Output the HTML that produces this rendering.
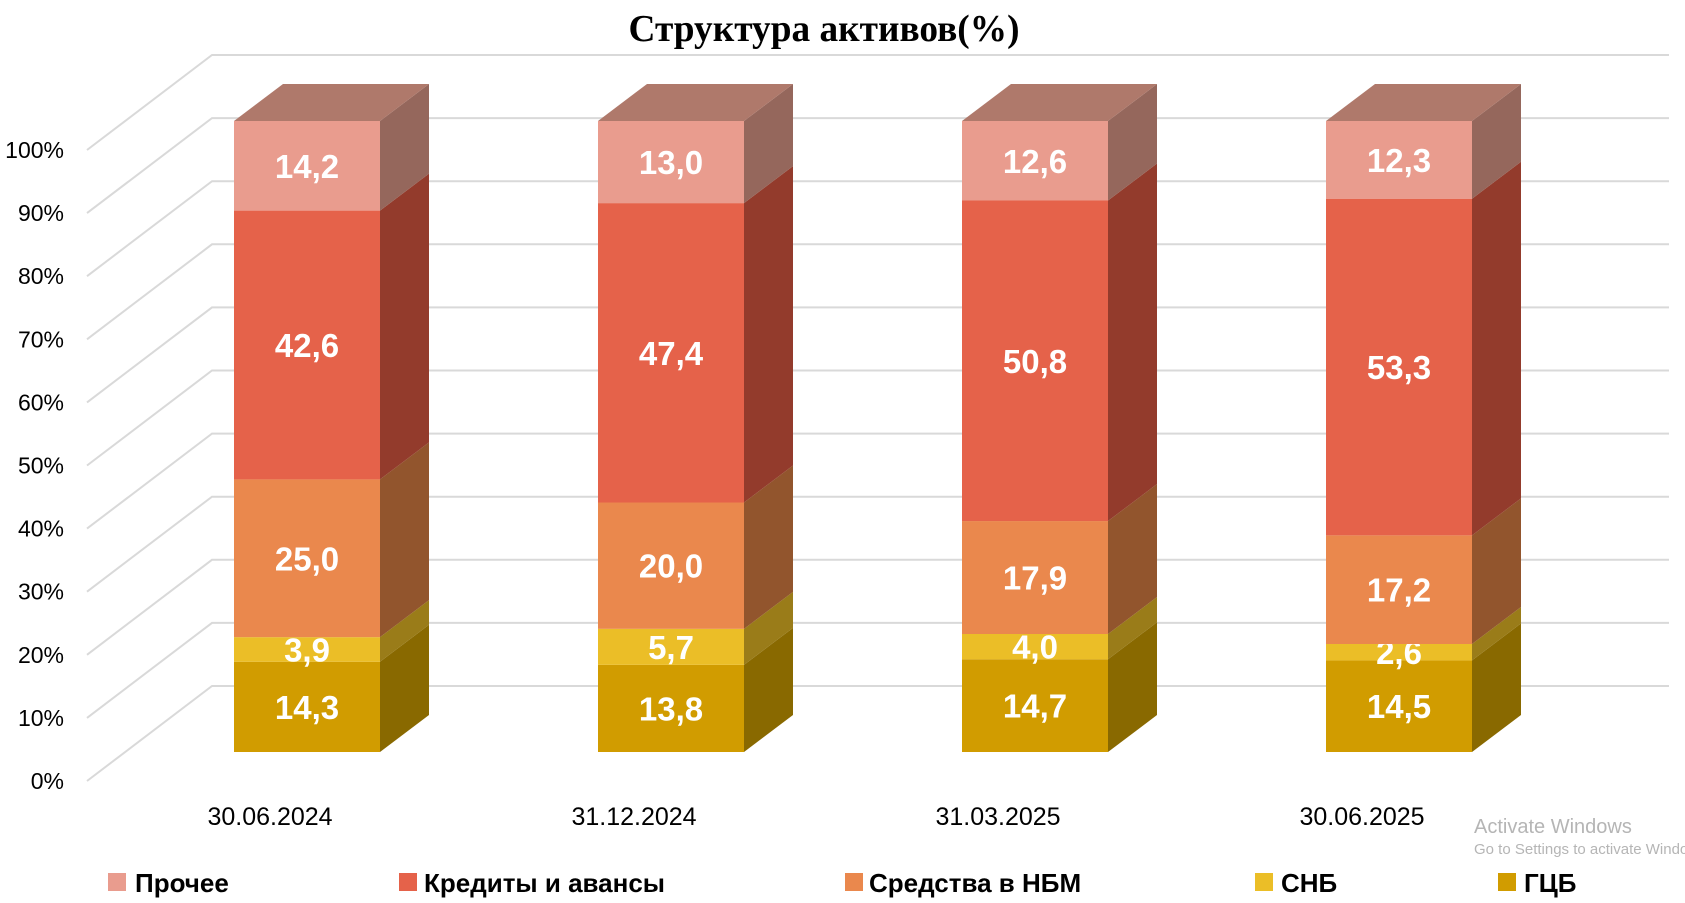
<!DOCTYPE html>
<html><head><meta charset="utf-8"><style>html,body{margin:0;padding:0;background:#fff}svg{display:block}</style></head><body>
<svg width="1685" height="903" viewBox="0 0 1685 903" xmlns="http://www.w3.org/2000/svg" font-family="'Liberation Sans', sans-serif">
<rect width="1685" height="903" fill="#fff"/>
<text x="824" y="41" text-anchor="middle" font-family="'Liberation Serif', serif" font-weight="bold" font-size="38" textLength="391" lengthAdjust="spacingAndGlyphs" fill="#000">Структура активов(%)</text>
<g id="grid" stroke="#d9d9d9" stroke-width="2" fill="none"></g>
<g id="ylab" font-size="23" fill="#000" text-anchor="end"></g>
<g id="bars"></g>
<g font-size="25" fill="#000" text-anchor="middle">
<text x="270" y="825">30.06.2024</text>
<text x="634" y="825">31.12.2024</text>
<text x="998" y="825">31.03.2025</text>
<text x="1362" y="825">30.06.2025</text>
</g>
<g font-size="26" font-weight="bold" fill="#000">
<rect x="108" y="873" width="18" height="18" fill="#E99C8E"/><text x="135" y="892">Прочее</text>
<rect x="399" y="873" width="18" height="18" fill="#E5624A"/><text x="424" y="892">Кредиты и авансы</text>
<rect x="845" y="873" width="18" height="18" fill="#EA884D"/><text x="869" y="892">Средства в НБМ</text>
<rect x="1255" y="873" width="18" height="18" fill="#EBBE27"/><text x="1281" y="892">СНБ</text>
<rect x="1498" y="873" width="18" height="18" fill="#D19C00"/><text x="1524" y="892">ГЦБ</text>
</g>
<text x="1474" y="833" font-size="20" fill="#b5b5b5">Activate Windows</text>
<text x="1474" y="854" font-size="15" fill="#b5b5b5">Go to Settings to activate Windows.</text>
<script>
var ns="http://www.w3.org/2000/svg";
function el(p,t,a,txt){var e=document.createElementNS(ns,t);for(var k in a)e.setAttribute(k,a[k]);if(txt!==undefined)e.textContent=txt;p.appendChild(e);return e;}
var g=document.getElementById('grid'),yl=document.getElementById('ylab');
for(var i=0;i<=10;i++){var s=63.1*i;
el(g,'path',{d:'M87 '+(781-s)+' L212 '+(686-s)+' L1669 '+(686-s)});
el(yl,'text',{x:64,y:789-s},(i*10)+'%');}
var cols=[["#D19C00","#896900","#A07800"],["#EBBE27","#9A7C19","#B8961F"],["#EA884D","#92552D","#B06A3D"],["#E5624A","#933B2C","#B04A38"],["#E99C8E","#95675C","#AF796B"]];
var data=[[14.3,3.9,25.0,42.6,14.2],[13.8,5.7,20.0,47.4,13.0],[14.7,4.0,17.9,50.8,12.6],[14.5,2.6,17.2,53.3,12.3]];
var xs=[234,598,962,1326],W=146,dx=49,dy=37,K=6.31,B=752;
var bg=document.getElementById('bars');
data.forEach(function(d,j){var x=xs[j],y=B;
var tot=d.reduce(function(a,b){return a+b},0);
d.forEach(function(v,k){var h=v*K*100/tot;var y0=y-h;
el(bg,'rect',{x:x,y:y0,width:W,height:h,fill:cols[k][0]});
el(bg,'path',{d:'M'+(x+W)+' '+y+' L'+(x+W+dx)+' '+(y-dy)+' L'+(x+W+dx)+' '+(y0-dy)+' L'+(x+W)+' '+y0+'Z',fill:cols[k][1]});
el(bg,'text',{x:x+W/2,y:y0+h/2+12,'text-anchor':'middle','font-size':33,'font-weight':'bold',fill:'#fff'},v.toFixed(1).replace('.',','));
y=y0;});
el(bg,'path',{d:'M'+x+' '+y+' L'+(x+dx)+' '+(y-dy)+' L'+(x+W+dx)+' '+(y-dy)+' L'+(x+W)+' '+y+'Z',fill:'#AF796B'});
});
</script>
</svg>
</body></html>
